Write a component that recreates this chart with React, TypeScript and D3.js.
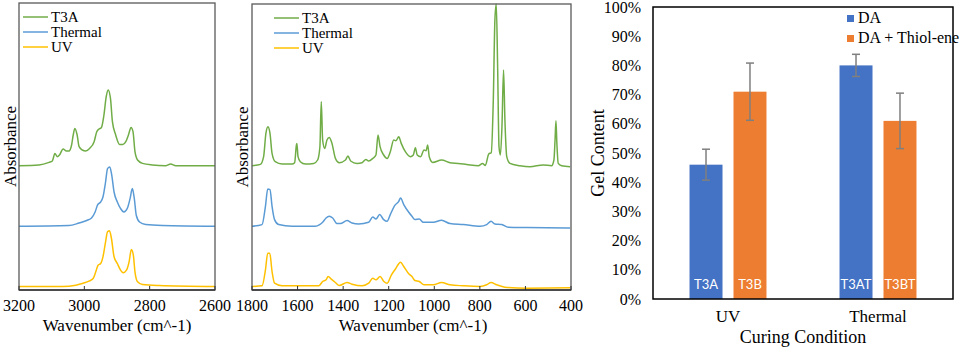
import React from "react";
import * as d3 from "d3";

// ---------- FTIR data (wavenumber, relative absorbance above each baseline) ----------
const seriesNames = ["T3A", "Thermal", "UV"];
const seriesColors = ["#70AD47", "#5B9BD5", "#FFC000"];
const seriesOffsets = [1.243, 0.637, 0.035];

const t3aHigh: [number, number][] = [
  [3200, 0], [3139, 0.007], [3108, 0.033], [3098, 0.047], [3090, 0.123], [3083, 0.09], [3076, 0.107],
  [3065, 0.167], [3055, 0.147], [3047, 0.147], [3039, 0.207], [3034, 0.307], [3029, 0.373], [3022, 0.307],
  [3016, 0.19], [3006, 0.157], [2996, 0.147], [2984, 0.173], [2970, 0.24], [2962, 0.34], [2955, 0.367],
  [2948, 0.38], [2940, 0.507], [2933, 0.69], [2927, 0.757], [2920, 0.673], [2914, 0.44], [2904, 0.307],
  [2892, 0.213], [2882, 0.213], [2873, 0.24], [2865, 0.307], [2857, 0.383], [2851, 0.34], [2845, 0.14],
  [2837, 0.057], [2822, 0.023], [2792, 0.007], [2751, 0], [2736, 0.017], [2720, 0], [2600, 0],
];
const thermalHigh: [number, number][] = [
  [3200, 0], [3047, 0.007], [3016, 0.033], [2991, 0.06], [2978, 0.083], [2967, 0.143], [2959, 0.217],
  [2950, 0.243], [2943, 0.293], [2935, 0.443], [2929, 0.577], [2922, 0.593], [2916, 0.51], [2909, 0.343],
  [2899, 0.243], [2889, 0.177], [2879, 0.143], [2868, 0.183], [2860, 0.277], [2853, 0.377], [2847, 0.277],
  [2841, 0.11], [2831, 0.043], [2812, 0.017], [2761, 0.007], [2600, 0],
];
const uvHigh: [number, number][] = [
  [3200, 0], [3067, 0], [3026, 0.013], [3004, 0.033], [2986, 0.053], [2973, 0.08], [2965, 0.147],
  [2958, 0.213], [2950, 0.23], [2943, 0.297], [2935, 0.447], [2929, 0.547], [2923, 0.557], [2917, 0.48],
  [2909, 0.297], [2899, 0.23], [2889, 0.163], [2881, 0.137], [2871, 0.163], [2863, 0.247], [2856, 0.37],
  [2850, 0.313], [2845, 0.147], [2837, 0.047], [2822, 0.02], [2771, 0.01], [2600, 0],
];

const t3aLow: [number, number][] = [
  [1800, 0], [1763, 0.013], [1749, 0.09], [1739, 0.323], [1730, 0.39], [1721, 0.323], [1712, 0.123],
  [1698, 0.04], [1668, 0.017], [1624, 0.017], [1613, 0.03], [1605, 0.207], [1603, 0.223], [1598, 0.09],
  [1588, 0.04], [1566, 0.017], [1529, 0.023], [1512, 0.057], [1502, 0.19], [1496, 0.64], [1490, 0.257],
  [1481, 0.173], [1471, 0.257], [1461, 0.283], [1449, 0.223], [1434, 0.073], [1417, 0.03], [1390, 0.057],
  [1379, 0.097], [1367, 0.047], [1339, 0.023], [1317, 0.03], [1300, 0.063], [1288, 0.047], [1270, 0.073],
  [1256, 0.107], [1247, 0.307], [1238, 0.19], [1222, 0.107], [1207, 0.073], [1193, 0.14], [1178, 0.257],
  [1168, 0.25], [1156, 0.29], [1145, 0.223], [1127, 0.14], [1105, 0.09], [1092, 0.107], [1083, 0.18],
  [1075, 0.107], [1060, 0.09], [1045, 0.157], [1036, 0.15], [1029, 0.207], [1022, 0.09], [1007, 0.033],
  [968, 0.057], [931, 0.03], [895, 0.023], [858, 0.013], [807, 0], [788, 0.023], [776, 0.003],
  [761, 0.117], [750, 0.13], [741, 0.657], [734, 1.457], [728, 1.617], [722, 0.99], [716, 0.19],
  [710, 0.107], [703, 0.39], [696, 0.957], [690, 0.457], [682, 0.09], [668, 0.023], [624, 0],
  [580, -0.01], [522, 0.007], [485, 0], [475, 0.057], [470, 0.257], [466, 0.45], [462, 0.223],
  [456, 0.023], [441, 0], [404, -0.01],
];
const thermalLow: [number, number][] = [
  [1800, 0], [1756, 0.017], [1741, 0.2], [1731, 0.373], [1721, 0.367], [1712, 0.2], [1701, 0.067],
  [1683, 0.017], [1624, 0], [1522, 0], [1503, 0.017], [1490, 0.04], [1475, 0.083], [1461, 0.1],
  [1446, 0.083], [1427, 0.027], [1412, 0.027], [1383, 0.057], [1361, 0.033], [1332, 0.023], [1288, 0.04],
  [1270, 0.093], [1256, 0.073], [1240, 0.117], [1222, 0.067], [1207, 0.05], [1193, 0.117], [1174, 0.207],
  [1156, 0.25], [1148, 0.283], [1134, 0.217], [1112, 0.14], [1098, 0.1], [1085, 0.067], [1066, 0.073],
  [1048, 0.04], [1004, 0.04], [968, 0.06], [931, 0.027], [873, 0.017], [799, 0], [770, 0.017],
  [751, 0.05], [734, 0.023], [704, 0.017], [675, -0.01], [595, -0.013], [404, -0.017],
];
const uvLow: [number, number][] = [
  [1800, 0], [1756, 0.007], [1741, 0.167], [1731, 0.333], [1722, 0.333], [1712, 0.15], [1701, 0.033],
  [1668, 0.007], [1507, 0.007], [1490, 0.05], [1475, 0.067], [1466, 0.1], [1452, 0.073], [1434, 0.04],
  [1417, 0.01], [1383, 0.04], [1361, 0.023], [1317, 0.007], [1288, 0.033], [1270, 0.083], [1256, 0.067],
  [1238, 0.1], [1221, 0.05], [1207, 0.033], [1188, 0.117], [1171, 0.173], [1148, 0.243], [1134, 0.2],
  [1112, 0.127], [1098, 0.1], [1085, 0.06], [1066, 0.05], [1045, 0.017], [1004, 0.017], [968, 0.04],
  [931, 0.017], [873, 0.007], [799, 0], [770, 0.017], [751, 0.04], [726, 0.017], [690, -0.007],
  [595, -0.017], [404, -0.013],
];

const highTicks = [3200, 3000, 2800, 2600];
const lowTicks = [1800, 1600, 1400, 1200, 1000, 800, 600, 400];

// ---------- Gel content data ----------
const conditions = ["UV", "Thermal"];
const barSeries = ["DA", "DA + Thiol-ene"];
const barColors = ["#4472C4", "#ED7D31"];
const daValues = [0.46, 0.80];
const thiolValues = [0.71, 0.61];
const daErrors = [0.053, 0.038];
const thiolErrors = [0.098, 0.095];
const daLabels = ["T3A", "T3AT"];
const thiolLabels = ["T3B", "T3BT"];
const pctTicks = [0, 0.1, 0.2, 0.3, 0.4, 0.5, 0.6, 0.7, 0.8, 0.9, 1.0];

const SERIF = '"Liberation Serif", Tinos, "Times New Roman", Times, "DejaVu Serif", serif';
const SANS = 'Lato, "Open Sans", sans-serif';
const serif = (size: number): React.CSSProperties => ({ fontFamily: SERIF, fontSize: size });
const sans = (size: number): React.CSSProperties => ({ fontFamily: SANS, fontSize: size });

type Spec = {
  x0: number; x1: number; top: number; bottom: number;
  domain: [number, number]; ticks: number[];
  curves: [number, number][][];
  legendX: number; legendY: number; titleX: number; absX: number;
};

function SpectrumPanel({ s }: { s: Spec }) {
  const x = d3.scaleLinear().domain(s.domain).range([s.x0, s.x1]);
  const y = d3.scaleLinear().domain([0, 2.86]).range([290, 4]);
  const line = (off: number) =>
    d3.line<[number, number]>()
      .x((d) => x(d[0]))
      .y((d) => y(d[1] + off))
      .curve(d3.curveMonotoneX);
  const midY = (s.top + s.bottom) / 2;
  return (
    <g>
      {s.curves.map((c, i) => (
        <path key={i} d={line(seriesOffsets[i])(c) || ""} fill="none"
          stroke={seriesColors[i]} strokeWidth={1.5} strokeLinejoin="round" />
      ))}
      <rect x={s.x0} y={s.top} width={s.x1 - s.x0} height={s.bottom - s.top}
        fill="none" stroke="#595959" strokeWidth={1.3} />
      <line x1={s.x0} x2={s.x1} y1={s.bottom} y2={s.bottom} stroke="#333" strokeWidth={1.3} />
      {s.ticks.map((t) => (
        <g key={t}>
          <line x1={x(t)} x2={x(t)} y1={s.bottom} y2={s.bottom - 4} stroke="#333" strokeWidth={1} />
          <text x={x(t)} y={311} textAnchor="middle" style={serif(16)} fill="#000">{t}</text>
        </g>
      ))}
      <text x={s.titleX} y={331} textAnchor="middle" style={serif(17)} fill="#000">Wavenumber (cm^-1)</text>
      <text transform={`translate(${s.absX},${midY}) rotate(-90)`} textAnchor="middle"
        dominantBaseline="central" style={serif(17)} fill="#000">Absorbance</text>
      {seriesNames.map((n, i) => (
        <g key={n}>
          <line x1={s.legendX} x2={s.legendX + 25} y1={s.legendY + i * 15} y2={s.legendY + i * 15}
            stroke={seriesColors[i]} strokeWidth={1.5} />
          <text x={s.legendX + 28} y={s.legendY + i * 15 + 5} style={serif(15)} fill="#000">{n}</text>
        </g>
      ))}
    </g>
  );
}

function BarPanel() {
  const left = 653, right = 953, top = 7, bottom = 299;
  const y = d3.scaleLinear().domain([0, 1]).range([bottom, top]);
  const x0 = d3.scaleBand().domain(conditions).range([left, right]).paddingInner(0.487).paddingOuter(0.2435);
  const x1 = d3.scaleBand().domain(barSeries).range([0, x0.bandwidth()]).paddingInner(0.25);
  const valuesBy = [daValues, thiolValues];
  const errorsBy = [daErrors, thiolErrors];
  const labelsBy = [daLabels, thiolLabels];
  return (
    <g>
      {conditions.map((c, ci) => (
        <g key={c}>
          {barSeries.map((sname, si) => {
            const bx = (x0(c) || 0) + (x1(sname) || 0);
            const bw = x1.bandwidth();
            const v = valuesBy[si][ci];
            const e = errorsBy[si][ci];
            const cx = bx + bw / 2;
            return (
              <g key={sname}>
                <rect x={bx} y={y(v)} width={bw} height={y(0) - y(v)} fill={barColors[si]} />
                <line x1={cx} x2={cx} y1={y(v + e)} y2={y(v - e)} stroke="#7F7F7F" strokeWidth={1.5} />
                <line x1={cx - 4} x2={cx + 4} y1={y(v + e)} y2={y(v + e)} stroke="#7F7F7F" strokeWidth={1.5} />
                <line x1={cx - 4} x2={cx + 4} y1={y(v - e)} y2={y(v - e)} stroke="#7F7F7F" strokeWidth={1.5} />
                <text x={cx} y={289} textAnchor="middle" style={sans(13)} fill="#fff">{labelsBy[si][ci]}</text>
              </g>
            );
          })}
          <text x={(x0(c) || 0) + x0.bandwidth() / 2} y={322} textAnchor="middle" style={serif(17)} fill="#000">{c}</text>
        </g>
      ))}
      <rect x={left} y={top} width={right - left} height={bottom - top} fill="none" stroke="#000" strokeWidth={1.5} />
      {pctTicks.map((t) => (
        <text key={t} x={641} y={y(t)} textAnchor="end" dominantBaseline="central" style={serif(16)} fill="#000">
          {d3.format(".0%")(t)}
        </text>
      ))}
      <text transform={`translate(598,153) rotate(-90)`} textAnchor="middle" dominantBaseline="central"
        style={serif(18)} fill="#000">Gel Content</text>
      <text x={803} y={343} textAnchor="middle" style={serif(18)} fill="#000">Curing Condition</text>
      {barSeries.map((sname, i) => (
        <g key={sname}>
          <rect x={847} y={15 + i * 20} width={7} height={7} fill={barColors[i]} />
          <text x={858} y={23 + i * 20} style={serif(16)} fill="#000">{sname}</text>
        </g>
      ))}
    </g>
  );
}

export default function App() {
  const p1: Spec = {
    x0: 19, x1: 215, top: 3, bottom: 290, domain: [3200, 2600], ticks: highTicks,
    curves: [t3aHigh, thermalHigh, uvHigh], legendX: 23, legendY: 17, titleX: 117, absX: 10,
  };
  const p2: Spec = {
    x0: 252, x1: 571, top: 4, bottom: 290, domain: [1800, 400], ticks: lowTicks,
    curves: [t3aLow, thermalLow, uvLow], legendX: 274, legendY: 18, titleX: 413, absX: 242,
  };
  return (
    <svg width={960} height={348} style={{ position: "absolute", left: 0, top: 0, background: "#fff" }}>
      <rect x={0} y={0} width={960} height={348} fill="#fff" />
      <SpectrumPanel s={p1} />
      <SpectrumPanel s={p2} />
      <BarPanel />
    </svg>
  );
}
